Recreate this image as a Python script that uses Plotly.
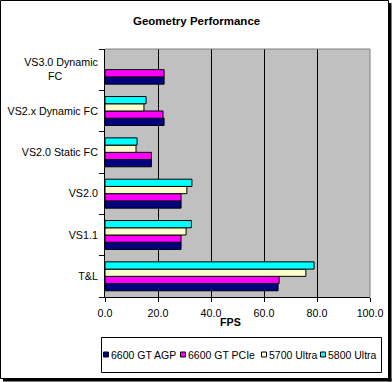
import plotly.graph_objects as go

# ---- data ----
categories = ["T&L", "VS1.1", "VS2.0", "VS2.0 Static FC", "VS2.x Dynamic FC", "VS3.0 Dynamic FC"]
tick_labels = ["T&L", "VS1.1", "VS2.0", "VS2.0 Static FC", "VS2.x Dynamic FC",
               "VS3.0 Dynamic<br>FC" + "\u00a0" * 12]
series_names = ["6600 GT AGP", "6600 GT PCIe", "5700 Ultra", "5800 Ultra"]
agp_fps = [65.3, 28.7, 28.7, 17.5, 22.3, 22.3]
pcie_fps = [65.7, 28.7, 28.7, 17.5, 21.9, 22.3]
u5700_fps = [75.8, 30.6, 30.9, 11.7, 14.7, None]
u5800_fps = [78.9, 32.6, 32.8, 12.1, 15.5, None]
x_ticks = [0, 20, 40, 60, 80, 100]

series_values = [agp_fps, pcie_fps, u5700_fps, u5800_fps]
colors = ["#000080", "#FF00FF", "#FFFFCC", "#00FFFF"]

FONT = "Arial, Liberation Sans, sans-serif"
W_FIG, H_FIG = 392, 382
L, R, T, B = 105, 22, 49, 85
PW = W_FIG - L - R
PH = H_FIG - T - B


def px(x):
    return (x - L) / PW


def py(y):
    return (H_FIG - B - y) / PH


fig = go.Figure()
for name, vals, col in zip(series_names, series_values, colors):
    fig.add_trace(go.Bar(
        y=categories, x=vals, name=name, orientation="h",
        marker=dict(color=col, line=dict(color="black", width=1)),
        showlegend=False,
    ))

shapes = []
# outer chart border + shadow
shapes.append(dict(type="rect", xref="paper", yref="paper",
                   x0=px(0.5), x1=px(388.5), y0=py(0.5), y1=py(378.5),
                   line=dict(color="black", width=1), layer="below"))
shapes.append(dict(type="rect", xref="paper", yref="paper",
                   x0=px(388.5), x1=px(391.5), y0=py(3), y1=py(381.5),
                   fillcolor="black", line=dict(width=0)))
shapes.append(dict(type="rect", xref="paper", yref="paper",
                   x0=px(3), x1=px(391.5), y0=py(378.5), y1=py(381.5),
                   fillcolor="black", line=dict(width=0)))
# plot area top / right border (gray)
shapes.append(dict(type="line", xref="paper", yref="paper", x0=0, x1=1, y0=1, y1=1,
                   line=dict(color="#808080", width=1)))
shapes.append(dict(type="line", xref="paper", yref="paper", x0=1, x1=1, y0=0, y1=1,
                   line=dict(color="#808080", width=1)))
# legend box
shapes.append(dict(type="rect", xref="paper", yref="paper",
                   x0=px(101.5), x1=px(381.5), y0=py(337.5), y1=py(372.5),
                   fillcolor="white", line=dict(color="black", width=1)))

annotations = []
text_starts = [110, 187, 268, 327]
for name, col, xs in zip(series_names, colors, text_starts):
    shapes.append(dict(type="rect", xref="paper", yref="paper",
                       x0=px(xs - 6.5), x1=px(xs - 1.5), y0=py(357), y1=py(352),
                       fillcolor=col, line=dict(color="black", width=1)))
    annotations.append(dict(text=name, xref="paper", yref="paper",
                            x=px(xs - 1), y=py(354.5), xanchor="left", yanchor="middle",
                            showarrow=False, font=dict(family=FONT, size=10.5, color="black")))

annotations.append(dict(text="<b>Geometry Performance</b>", xref="paper", yref="paper",
                        x=px(196), y=py(21), xanchor="center", yanchor="middle",
                        showarrow=False, font=dict(family=FONT, size=11.5, color="black")))
annotations.append(dict(text="<b>FPS</b>", xref="paper", yref="paper",
                        x=px(230), y=py(321.5), xanchor="center", yanchor="middle",
                        showarrow=False, font=dict(family=FONT, size=10.7, color="black")))

fig.update_layout(
    width=W_FIG, height=H_FIG, autosize=False,
    margin=dict(l=L, r=R, t=T, b=B, pad=0, autoexpand=False),
    paper_bgcolor="white", plot_bgcolor="#C0C0C0",
    barmode="group", bargap=0.3, bargroupgap=0,
    shapes=shapes, annotations=annotations,
    showlegend=False,
    font=dict(family=FONT, size=10.7, color="black"),
)
fig.update_xaxes(
    range=[0, 100], tickvals=x_ticks, tickformat=".1f", automargin=False,
    showgrid=True, gridcolor="black", gridwidth=1, zeroline=False,
    showline=True, linecolor="black", linewidth=1,
    ticks="outside", ticklen=4, tickcolor="black", tickwidth=1,
    ticklabelstandoff=2,
    tickfont=dict(family=FONT, size=10.7, color="black"),
)
fig.update_yaxes(
    type="category", categoryorder="array", categoryarray=categories,
    tickvals=categories, ticktext=tick_labels, automargin=False,
    showgrid=False, zeroline=False,
    showline=True, linecolor="black", linewidth=1,
    ticks="outside", ticklen=5, tickcolor="black", tickwidth=1, tickson="boundaries",
    ticklabelstandoff=4,
    tickfont=dict(family=FONT, size=10.7, color="black"),
)

fig.write_html("out.html", config={"displayModeBar": False},
               post_script="document.body.style.margin='0';")
